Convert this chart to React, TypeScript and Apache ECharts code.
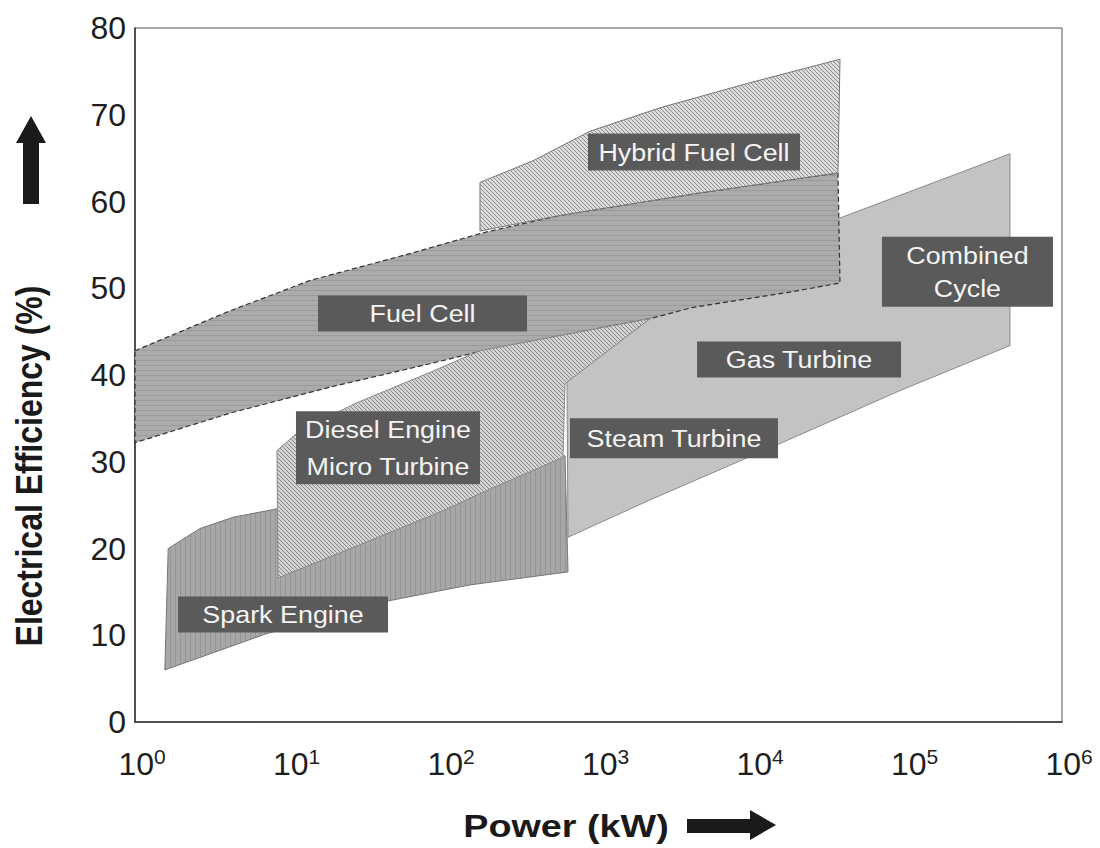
import React, { useEffect, useRef } from "react";
import * as echarts from "echarts";

// ---------- DATA (power in kW, electrical efficiency in %) ----------
const xTickExponents = [0, 1, 2, 3, 4, 5, 6];
const yTicks = [0, 10, 20, 30, 40, 50, 60, 70, 80];

// Gas turbine / steam turbine / combined cycle envelope
const gasPower = [625, 2155, 36560, 460600, 460600, 89400, 14960, 2155, 635];
const gasEff = [39.4, 46.5, 58.1, 65.5, 43.4, 38.2, 32.1, 25.6, 21.3];

// Fuel cell envelope
const fuelPower = [1, 4.12, 13.6, 60.3, 179, 563, 4540, 35480, 36560, 16600, 4090, 2155, 179, 81.2, 18.3, 4.12, 1];
const fuelEff = [42.8, 47.4, 50.9, 54.0, 56.4, 58.4, 61.0, 63.3, 50.6, 49.5, 47.8, 46.5, 42.8, 41.3, 38.6, 35.6, 32.2];

// Hybrid fuel cell envelope
const hybridPower = [171, 377, 881, 2500, 9140, 36560, 35480, 4540, 563, 171];
const hybridEff = [62.2, 64.7, 68.1, 70.8, 73.6, 76.4, 63.3, 61.0, 58.4, 56.6];

// Spark engine envelope
const sparkPower = [1.64, 2.63, 4.31, 8.43, 607, 635, 147, 44.7, 7.15, 1.56];
const sparkEff = [20.0, 22.3, 23.6, 24.6, 30.7, 17.3, 15.8, 14.0, 10.2, 6.0];

// Diesel engine / micro turbine envelope
const dieselPower = [8.3, 11.7, 27.3, 81.2, 171, 2155, 607, 589, 190, 94.2, 21.2, 8.43];
const dieselEff = [31.3, 33.6, 36.8, 40.3, 42.8, 46.5, 39.0, 30.5, 26.7, 24.2, 19.5, 16.6];

// Region labels (anchor points in data units)
const labelNames = [
  "Hybrid Fuel Cell",
  "Fuel Cell",
  "Diesel Engine\nMicro Turbine",
  "Spark Engine",
  "Steam Turbine",
  "Gas Turbine",
  "Combined\nCycle",
];
const labelPower = [4150, 72.6, 43.4, 9.08, 3080, 19860, 244400];
const labelEff = [65.7, 47.1, 31.6, 12.4, 32.7, 41.8, 51.9];

// ---------- STYLE ----------
const FONT = "'Liberation Sans', Arial, Helvetica, sans-serif";
const labelBoxStyle: Record<string, { w: number; h: number; lh: number }> = {
  "Hybrid Fuel Cell": { w: 212, h: 37, lh: 30 },
  "Fuel Cell": { w: 209, h: 36, lh: 30 },
  "Diesel Engine\nMicro Turbine": { w: 184, h: 73, lh: 37 },
  "Spark Engine": { w: 210, h: 36, lh: 30 },
  "Steam Turbine": { w: 208, h: 40, lh: 30 },
  "Gas Turbine": { w: 204, h: 36, lh: 30 },
  "Combined\nCycle": { w: 171, h: 70, lh: 33 },
};

function makePattern(kind: "h" | "v" | "d", base: string, line: string) {
  const c = document.createElement("canvas");
  const n = kind === "d" ? 4 : 5;
  c.width = n;
  c.height = n;
  const ctx = c.getContext("2d")!;
  ctx.fillStyle = base;
  ctx.fillRect(0, 0, n, n);
  ctx.fillStyle = line;
  if (kind === "h") ctx.fillRect(0, 0, n, 1);
  else if (kind === "v") ctx.fillRect(0, 0, 1, n);
  else for (let i = 0; i < n; i++) ctx.fillRect(i, i, 1, 1);
  return { image: c, repeat: "repeat", imageWidth: n, imageHeight: n } as any;
}

function polygonSeries(name: string, power: number[], eff: number[], style: any) {
  const data = power.map((p, i) => [p, eff[i]]);
  return {
    type: "custom",
    name,
    data,
    encode: { x: 0, y: 1 },
    silent: true,
    renderItem: (params: any, api: any) => {
      if (params.dataIndex !== 0) return null;
      const pts = data.map((d) => api.coord(d));
      return { type: "polygon", shape: { points: pts }, style };
    },
  };
}

export default function App() {
  const ref = useRef<HTMLDivElement>(null);

  useEffect(() => {
    if (!ref.current) return;
    const chart = echarts.init(ref.current, null, { renderer: "svg" });

    const fuelFill = makePattern("h", "#ababab", "#9b9b9b");
    const sparkFill = makePattern("v", "#a7a7a7", "#959595");
    const hybridFill = makePattern("d", "#dcdcdc", "#8c8c8c");
    const dieselFill = makePattern("d", "#d4d4d4", "#858585");

    const labelData = labelPower.map((p, i) => [p, labelEff[i]]);

    const option: any = {
      animation: false,
      backgroundColor: "#ffffff",
      grid: {
        left: 135,
        right: 38,
        top: 28,
        bottom: 126,
        show: true,
        borderColor: "#555",
        borderWidth: 1,
        backgroundColor: "transparent",
      },
      xAxis: {
        type: "log",
        logBase: 10,
        min: Math.pow(10, xTickExponents[0]),
        max: Math.pow(10, xTickExponents[xTickExponents.length - 1]),
        splitNumber: xTickExponents.length - 1,
        axisLine: { show: true, lineStyle: { color: "#333", width: 1.5 } },
        axisTick: { show: false },
        splitLine: { show: false },
        axisLabel: {
          margin: 24,
          color: "#1e1e1e",
          padding: [0, 0, 0, 14],
          formatter: (v: number) => `{b|10}{s|${Math.round(Math.log10(v))}}`,
          rich: {
            b: { fontSize: 32, fontFamily: FONT, color: "#1e1e1e", lineHeight: 36 },
            s: { fontSize: 21, fontFamily: FONT, color: "#1e1e1e", verticalAlign: "top", lineHeight: 22 },
          },
        },
      },
      yAxis: {
        type: "value",
        min: yTicks[0],
        max: yTicks[yTicks.length - 1],
        interval: yTicks[1] - yTicks[0],
        axisLine: { show: true, lineStyle: { color: "#333", width: 1.5 } },
        axisTick: { show: false },
        splitLine: { show: false },
        axisLabel: { margin: 9, fontSize: 32, fontFamily: FONT, color: "#1e1e1e" },
      },
      graphic: [
        {
          type: "text",
          x: 29,
          y: 466,
          rotation: Math.PI / 2,
          scaleY: 1.15,
          style: {
            text: "Electrical Efficiency (%)",
            fontSize: 32,
            fontWeight: "bold",
            fontFamily: FONT,
            fill: "#1a1a1a",
            align: "center",
            verticalAlign: "middle",
          },
        },
        {
          type: "polygon",
          shape: {
            points: [
              [23, 204],
              [39, 204],
              [39, 143],
              [46, 143],
              [31, 116],
              [16, 143],
              [23, 143],
            ],
          },
          style: { fill: "#1a1a1a" },
        },
        {
          type: "text",
          x: 566,
          y: 826,
          scaleX: 1.18,
          style: {
            text: "Power (kW)",
            fontSize: 32,
            fontWeight: "bold",
            fontFamily: FONT,
            fill: "#1a1a1a",
            align: "center",
            verticalAlign: "middle",
          },
        },
        {
          type: "polygon",
          shape: {
            points: [
              [687, 819],
              [750, 819],
              [750, 810],
              [776, 825],
              [750, 840],
              [750, 833],
              [687, 833],
            ],
          },
          style: { fill: "#1a1a1a" },
        },
      ],
      series: [
        polygonSeries("Gas Turbine", gasPower, gasEff, { fill: "#c3c3c3", stroke: "#8a8a8a", lineWidth: 1 }),
        polygonSeries("Fuel Cell", fuelPower, fuelEff, {
          fill: fuelFill,
          stroke: "#333",
          lineWidth: 1.2,
          lineDash: [5, 3],
        }),
        polygonSeries("Hybrid Fuel Cell", hybridPower, hybridEff, { fill: hybridFill, stroke: "#777", lineWidth: 1 }),
        polygonSeries("Spark Engine", sparkPower, sparkEff, { fill: sparkFill, stroke: "#777", lineWidth: 1 }),
        polygonSeries("Diesel Engine", dieselPower, dieselEff, { fill: dieselFill, stroke: "#888", lineWidth: 1 }),
        {
          type: "custom",
          name: "labels",
          data: labelData,
          encode: { x: 0, y: 1 },
          z: 5,
          silent: true,
          renderItem: (params: any, api: any) => {
            const i = params.dataIndex;
            const [cx, cy] = api.coord([api.value(0), api.value(1)]);
            const name = labelNames[i];
            const sz = labelBoxStyle[name];
            return {
              type: "group",
              children: [
                {
                  type: "rect",
                  shape: { x: cx - sz.w / 2, y: cy - sz.h / 2, width: sz.w, height: sz.h },
                  style: { fill: "#5a5a5a" },
                },
                {
                  type: "text",
                  x: cx,
                  y: cy,
                  scaleX: 1.12,
                  style: {
                    text: name,
                    fill: "#f4f4f4",
                    fontSize: 24,
                    fontFamily: FONT,
                    align: "center",
                    verticalAlign: "middle",
                    lineHeight: sz.lh,
                  },
                },
              ],
            };
          },
        },
      ],
    };

    chart.setOption(option);
    return () => chart.dispose();
  }, []);

  return (
    <div
      ref={ref}
      style={{ position: "fixed", left: 0, top: 0, width: 1100, height: 848, background: "#fff" }}
    />
  );
}
